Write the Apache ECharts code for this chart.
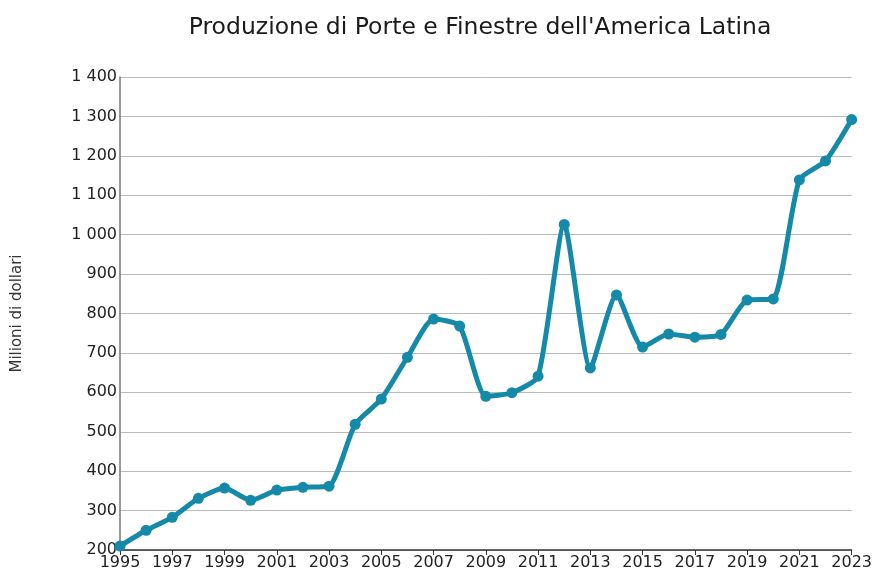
<!DOCTYPE html>
<html>
<head>
<meta charset="utf-8">
<script src="https://cdn.jsdelivr.net/npm/echarts@6/dist/echarts.min.js"></script>
<style>html,body{margin:0;padding:0;background:#fff}#c{width:875px;height:575px}</style>
</head>
<body>
<div id="c"></div>
<script>
const years = ['1995','1996','1997','1998','1999','2000','2001','2002','2003','2004','2005','2006','2007','2008','2009','2010','2011','2012','2013','2014','2015','2016','2017','2018','2019','2020','2021','2022','2023'];
const values = [210,250,283,331,357,326,352,359,362,519,583,689,786,768,590,599,641,1026,662,847,715,748,740,747,834,837,1139,1187,1292];
const titleText = "Produzione di Porte e Finestre dell'America Latina";
const yName = 'Milioni di dollari';

const chart = echarts.init(document.getElementById('c'));
const fmt = v => { const s = String(v); return s.length > 3 ? s.slice(0, s.length-3) + ' ' + s.slice(-3) : s; };
chart.setOption({
  animation: false,
  textStyle: {fontFamily: 'DejaVu Sans'},
  title: {text: titleText, left: 475, top: 11, textAlign: 'center',
    textStyle: {fontFamily: 'DejaVu Sans', fontSize: 23.5, fontWeight: 'normal', color: '#1a1a1a'}},
  grid: {left: 120, right: 22, top: 77, bottom: 25},
  xAxis: {type: 'category', data: years, boundaryGap: false,
    axisLine: {lineStyle: {color: '#333', width: 1.5}},
    axisTick: {interval: 1, length: 5, lineStyle: {color: '#333'}},
    axisLabel: {interval: 1, color: '#222', fontSize: 16, margin: 5},
    splitLine: {show: false}},
  yAxis: {type: 'value', min: 200, max: 1400, interval: 100,
    name: yName, nameLocation: 'middle', nameGap: 95, nameRotate: 90,
    nameTextStyle: {fontSize: 15, color: '#333'},
    axisLine: {show: true, lineStyle: {color: '#777', width: 1.5}},
    axisTick: {show: false},
    axisLabel: {formatter: fmt, color: '#222', fontSize: 16, margin: 3},
    splitLine: {lineStyle: {color: '#bbb', width: 1}}},
  series: [{type: 'line', data: values, smooth: 0.2,
    symbol: 'circle', symbolSize: 11,
    lineStyle: {color: '#1589a8', width: 5},
    itemStyle: {color: '#1589a8'}}]
});
</script>
</body>
</html>
